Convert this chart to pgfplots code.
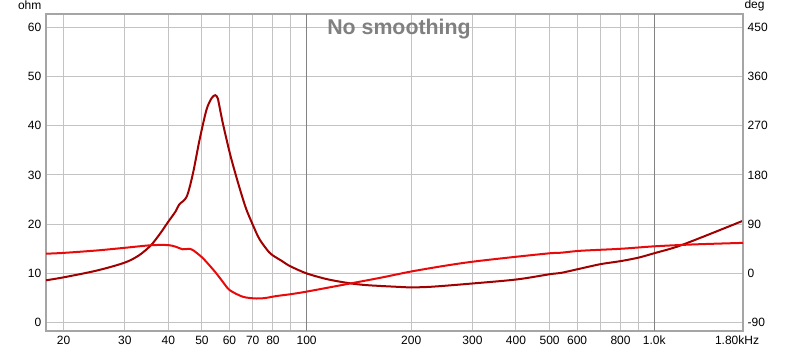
\documentclass[border=0pt]{standalone}
\usepackage{pgfplots}
\pgfplotsset{compat=1.18}
\usepackage{fontspec}
\setmainfont{Liberation Sans}
\definecolor{imp}{RGB}{160,0,0}
\definecolor{pha}{RGB}{232,10,10}
\definecolor{gridc}{RGB}{195,195,195}
\definecolor{gridd}{RGB}{130,130,130}
\definecolor{framec}{RGB}{165,165,165}
\definecolor{titlec}{RGB}{128,128,128}
\begin{document}
\begin{tikzpicture}
\path[use as bounding box] (0pt,0pt) rectangle (600pt,264pt);
\begin{axis}[at={(34.5pt,15.75pt)}, anchor=south west, scale only axis,
  width=522.75pt, height=237.75pt,
  xmode=log, xmin=17.8, xmax=1800, ymin=-1.7, ymax=62.7,
  xtick={20,30,40,50,60,70,80,100,200,300,400,500,600,800,1000},
  xticklabels={20,30,40,50,60,70,80,100,200,300,400,500,600,800,1.0k},
  minor xtick={90,700,900},
  extra x ticks={1800}, extra x tick labels={1.80kHz},
  extra x tick style={grid=none, xticklabel style={xshift=-4.5pt}},
  ytick={0,10,...,60},
  yticklabel pos=left,
  grid=both,
  major grid style={gridc, line width=0.75pt},
  minor grid style={gridc, line width=0.75pt},
  axis line style={framec, line width=1.5pt},
  tick style={draw=none},
  tick label style={font=\fontsize{9}{10}\selectfont},
  /pgf/number format/assume math mode=true,
  clip=true,
]
\draw[gridd, line width=0.75pt] (axis cs:100,-1.7) -- (axis cs:100,62.7);
\draw[gridd, line width=0.75pt] (axis cs:1000,-1.7) -- (axis cs:1000,62.7);
\addplot[imp, line width=1.5pt, smooth] coordinates {
(17.8,8.6) (20,9.2) (25,10.6) (30,12.2) (33,13.7) (35.7,15.75) (38,18.2) (40,20.5)
(42,22.6) (43,24.0) (45.2,25.6) (47.1,30.3) (49.2,37.1) (51.5,43.2)
(53.3,45.6) (54.6,46.2) (55.5,45.6) (56.3,43.5) (57.5,40.3) (60.1,34.5) (62.1,30.8)
(64.5,26.8) (67.1,23.0) (70.9,19.0) (73.4,16.8) (78,14.3) (81,13.4) (85,12.5)
(89.5,11.5) (100,10.0) (115,8.8)
(133,8.0) (150,7.6) (185,7.25) (198,7.15) (230,7.3) (302,7.97) (403,8.78)
(503,9.86) (539,10.1) (615,11.0) (703,11.9) (801,12.5) (900,13.2) (1000,14.1)
(1171,15.5) (1458,18.1) (1800,20.7)
};
\end{axis}
\begin{axis}[at={(34.5pt,15.75pt)}, anchor=south west, scale only axis,
  width=522.75pt, height=237.75pt,
  xmode=log, xmin=17.8, xmax=1800, ymin=-105.3, ymax=474.3,
  axis x line=none, axis y line*=right,
  ytick={-90,0,...,450},
  y axis line style={framec, line width=1.5pt},
  tick style={draw=none},
  tick label style={font=\fontsize{9}{10}\selectfont},
  /pgf/number format/assume math mode=true,
]
\addplot[pha, line width=1.5pt, smooth] coordinates {
(17.8,36) (20,37.5) (25,42) (30,46.8) (35.7,51.5) (40,51.75) (42.1,48.6)
(44,44.1) (46.1,45) (47.5,41) (49.2,33.3) (50.3,28) (52.5,15) (55,0)
(57.5,-16) (60.1,-30.6) (65.6,-42.75) (71.7,-45.9) (76,-45) (81.9,-41.4)
(90,-38) (100,-33.3) (129,-20.2) (163,-8) (200,3.5) (250,14) (302,21.6)
(403,30.6) (503,36.9) (539,37.8) (615,41.4) (800,45) (1000,49.5) (1300,53)
(1800,55.8)
};
\end{axis}
\node[font=\fontsize{9}{10}\selectfont] at (22.3pt,260pt) {ohm};
\node[font=\fontsize{9}{10}\selectfont] at (565.9pt,260pt) {deg};
\node[font=\bfseries\fontsize{16}{18}\selectfont, text=titlec] at (299.25pt,242.5pt) {No smoothing};
\end{tikzpicture}
\end{document}
